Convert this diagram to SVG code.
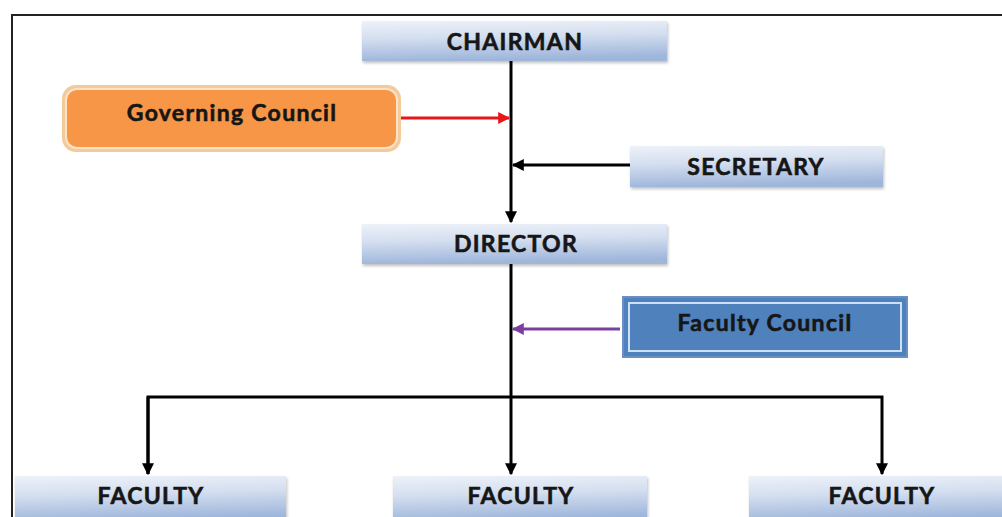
<svg xmlns="http://www.w3.org/2000/svg" width="1002" height="517" viewBox="0 0 1002 517">
<defs>
<linearGradient id="bl" x1="0" y1="0" x2="0.15" y2="1">
<stop offset="0" stop-color="#eef2f9"/>
<stop offset="0.45" stop-color="#d3deef"/>
<stop offset="1" stop-color="#9fb6db"/>
</linearGradient>
<filter id="sh" x="-5%" y="-20%" width="110%" height="150%">
<feDropShadow dx="1" dy="2" stdDeviation="1.5" flood-color="#000" flood-opacity="0.25"/>
</filter>
<marker id="ak" viewBox="0 0 10 10" refX="9" refY="5" markerWidth="4" markerHeight="4" orient="auto" markerUnits="strokeWidth">
<path d="M0,0 L10,5 L0,10 z" fill="#000"/>
</marker>
<marker id="ar" viewBox="0 0 10 10" refX="9" refY="5" markerWidth="4" markerHeight="4" orient="auto" markerUnits="strokeWidth">
<path d="M0,0 L10,5 L0,10 z" fill="#e8161b"/>
</marker>
<marker id="ap" viewBox="0 0 10 10" refX="9" refY="5" markerWidth="4" markerHeight="4" orient="auto" markerUnits="strokeWidth">
<path d="M0,0 L10,5 L0,10 z" fill="#7b3fa0"/>
</marker>
</defs>
<style>
.box{fill:url(#bl);filter:url(#sh)}
.t{font-family:Lato,"Open Sans",sans-serif;font-weight:bold;font-size:23px;letter-spacing:1.3px;fill:#161616;stroke:#161616;stroke-width:0.6px;text-anchor:middle}
.c{fill:none;stroke:#000;stroke-width:3}
</style>
<rect x="0" y="0" width="1002" height="517" fill="#fff"/>
<path d="M12,517 V15 H1002" fill="none" stroke="#222" stroke-width="2"/>
<g id="connectors">
<line class="c" x1="511" y1="61" x2="511" y2="222" marker-end="url(#ak)"/>
<line x1="401" y1="118" x2="509" y2="118" stroke="#e8161b" stroke-width="3" marker-end="url(#ar)"/>
<line class="c" x1="630" y1="165" x2="513" y2="165" stroke-width="2.5" marker-end="url(#ak)"/>
<line x1="620" y1="329" x2="513" y2="329" stroke="#7b3fa0" stroke-width="3" marker-end="url(#ap)"/>
<line class="c" x1="511" y1="264" x2="511" y2="474" marker-end="url(#ak)"/>
<polyline class="c" points="148,474 148,397 882,397 882,474" marker-end="url(#ak)"/>
<line class="c" x1="148" y1="397" x2="148" y2="474" marker-end="url(#ak)"/>
</g>
<g id="chairman">
<rect class="box" x="362" y="21" width="305" height="40"/>
<text class="t" x="515" y="50">CHAIRMAN</text>
</g>
<g id="governing-council">
<rect x="62" y="85" width="339" height="67" rx="14" fill="#f5ca9a"/>
<rect x="66" y="89" width="331" height="59" rx="11" fill="#f79646" stroke="#fbe3c8" stroke-width="2"/>
<text class="t" x="232" y="121">Governing Council</text>
</g>
<g id="secretary">
<rect class="box" x="630" y="146" width="253" height="41"/>
<text class="t" x="756" y="175">SECRETARY</text>
</g>
<g id="director">
<rect class="box" x="362" y="224" width="305" height="40"/>
<text class="t" x="516" y="252">DIRECTOR</text>
</g>
<g id="faculty-council">
<rect x="623" y="297" width="284" height="60" fill="#4f81bd" stroke="#6b8fc2" stroke-width="2"/>
<rect x="629" y="303" width="272" height="48" fill="#4f81bd" stroke="#cfe0f5" stroke-width="2"/>
<text class="t" x="765" y="331">Faculty Council</text>
</g>
<g id="faculty-1">
<rect class="box" x="15" y="476" width="271" height="45"/>
<text class="t" x="151" y="504">FACULTY</text>
</g>
<g id="faculty-2">
<rect class="box" x="393" y="476" width="254" height="45"/>
<text class="t" x="521" y="504">FACULTY</text>
</g>
<g id="faculty-3">
<rect class="box" x="749" y="476" width="260" height="45"/>
<text class="t" x="882" y="504">FACULTY</text>
</g>
</svg>
